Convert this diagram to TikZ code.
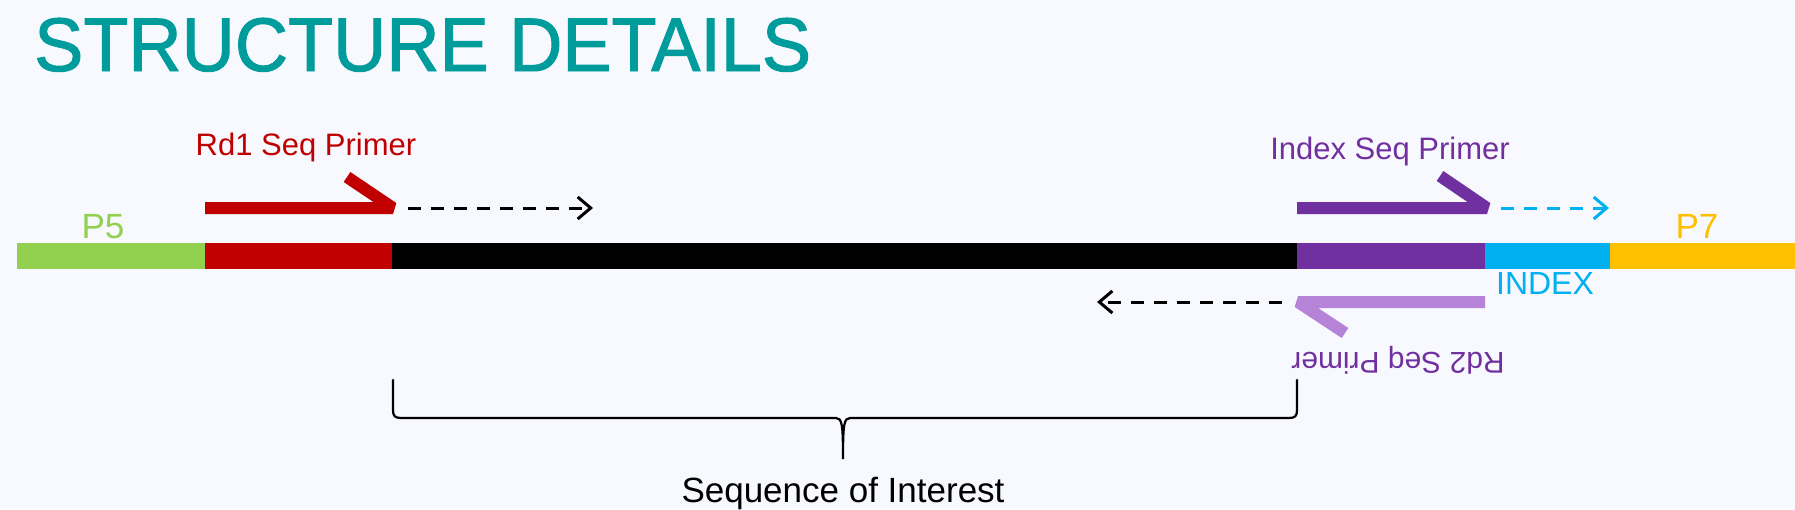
\documentclass[tikz,border=0pt]{standalone}
\usepackage{fontspec}
\setmainfont{Liberation Sans}
\newfontfamily\titlefont[FakeBold=1.3, FakeStretch=0.97]{Liberation Sans}
\usetikzlibrary{arrows.meta}
\definecolor{bgcol}{RGB}{248,249,254}
\definecolor{titleteal}{RGB}{0,155,155}
\definecolor{pfivegreen}{RGB}{146,208,80}
\definecolor{rdred}{RGB}{192,0,0}
\definecolor{idxpurple}{RGB}{112,48,160}
\definecolor{rdlilac}{RGB}{181,131,216}
\definecolor{idxcyan}{RGB}{0,176,240}
\definecolor{psevenyellow}{RGB}{255,192,0}

\begin{document}
\begin{tikzpicture}[x=1pt, y=-1pt,
    primer/.style={line width=12pt, line join=bevel},
    ext/.style={line width=3pt, dash pattern=on 13pt off 10pt,
        -{Straight Barb[length=13pt, width=22pt]}},
    lbl/.style={inner sep=0pt, anchor=base, font=\fontsize{#1}{#1}\selectfont}]
    \fill[bgcol] (0,0) rectangle (1795,509);
    \useasboundingbox (0,0) rectangle (1795,509);
    % title
    \node(title)[inner sep=0pt, anchor=base west, text=titleteal,
        font=\titlefont\fontsize{76}{90}\selectfont] at (34,71) {STRUCTURE DETAILS};
    % the strand
    \foreach \xa/\xb/\col in {17/205/pfivegreen, 205/392/rdred, 392/1297/black,
        1297/1485/idxpurple, 1485/1610/idxcyan, 1610/1795/psevenyellow}
        \fill[\col] (\xa,243) rectangle (\xb,269);
    \node(p5)[lbl=35, text=pfivegreen] at (103,238) {P5};
    \node(p7)[lbl=35, text=psevenyellow] at (1697,238) {P7};
    \node(idx)[lbl=32, text=idxcyan] at (1545,294) {INDEX};
    % primers
    \coordinate(rd1a) at (205,208);
    \coordinate(rd1b) at (393,208);
    \coordinate(rd1c) at (408,208);
    \coordinate(rd1d) at (593,208);
    \draw[primer, rdred] (rd1a) -- (rd1b) -- ++(-46,-31);
    \draw[ext, black] (rd1c) -- (rd1d);
    \node(rd1)[lbl=31, text=rdred] at (306,155) {Rd1 Seq Primer};
    \coordinate(ixa) at (1297,208);
    \coordinate(ixb) at (1487,208);
    \coordinate(ixc) at (1501,208);
    \coordinate(ixd) at (1609,208);
    \draw[primer, idxpurple] (ixa) -- (ixb) -- ++(-47,-32);
    \draw[ext, idxcyan] (ixc) -- (ixd);
    \node(ix)[lbl=31, text=idxpurple] at (1390,159) {Index Seq Primer};
    \coordinate(rd2a) at (1485,302);
    \coordinate(rd2b) at (1298,302);
    \coordinate(rd2c) at (1282,302);
    \coordinate(rd2d) at (1097,302);
    \draw[primer, rdlilac] (rd2a) -- (rd2b) -- ++(47,31);
    \draw[ext, black] (rd2c) -- (rd2d);
    \node(rd2)[lbl=30, text=idxpurple, rotate=180] at (1398,352) {Rd2 Seq Primer};
    % sequence of interest
    \draw[line width=2.2pt, line cap=round]
        (393,380) -- (393,410) .. controls (393,416) and (395,418) .. (401,418)
        -- (836,418) .. controls (842,418) and (843,424) .. (843,459)
        .. controls (843,424) and (844,418) .. (850,418)
        -- (1289,418) .. controls (1295,418) and (1297,416) .. (1297,410) -- (1297,380);
    \node(soi)[lbl=35] at (843,502) {Sequence of Interest};
\end{tikzpicture}
\end{document}
